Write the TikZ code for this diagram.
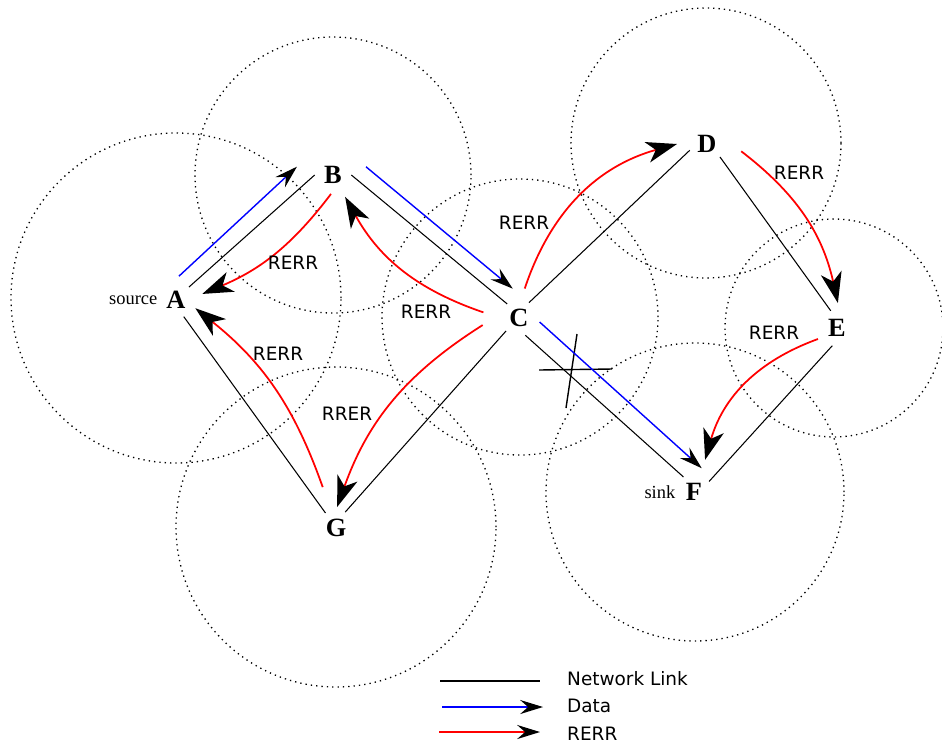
\documentclass[tikz,border=0pt]{standalone}
\usepackage{fontspec}
\setmainfont{Liberation Serif}
\setsansfont{DejaVu Sans}
\usetikzlibrary{arrows.meta,positioning}

\tikzset{
  host/.style={circle, minimum size=0.72cm, inner sep=0pt, font=\fontsize{15}{17}\selectfont\bfseries},
  role/.style={inner sep=0pt, font=\fontsize{10.5}{12}\selectfont},
  msg/.style={font=\sffamily\fontsize{10.5}{12}\selectfont},
  zone/.style={line width=0.75pt, dash pattern=on 0.75pt off 2.3pt},
  link/.style={black, line width=0.6pt},
  small tip/.style={-{Stealth[black,length=13pt,width=8pt,inset=4.5pt]}},
  data/.style={blue, line width=0.8pt, small tip},
  rerr/.style={red, line width=1pt, -{Stealth[black,length=17.5pt,width=12pt,inset=5pt]}},
}

\begin{document}
\begin{tikzpicture}[x=0.02cm, y=0.02cm]
\useasboundingbox (0,0) rectangle (942,-745);

% hosts
\node[host] (A) at (176,-300) {A};
\node[host] (B) at (333,-175) {B};
\node[host] (C) at (519,-318) {C};
\node[host] (D) at (707,-144) {D};
\node[host] (E) at (837,-328) {E};
\node[host] (F) at (694,-492) {F};
\node[host] (G) at (336,-528) {G};
\node[role, left=0pt of A] (source) {source};
\node[role, left=0pt of F] (sink) {sink};

% radio ranges
\draw[zone] (176,-298) circle[radius=165];
\draw[zone] (333,-175) circle[radius=138];
\draw[zone] (520,-317) circle[radius=138];
\draw[zone] (706,-143) circle[radius=135];
\draw[zone] (834,-328) circle[radius=109];
\draw[zone] (695,-492) circle[radius=149];
\draw[zone] (336,-527) circle[radius=160];

% network links
\draw[link] (A.45) -- (B.180);
\draw[link] (B.0) -- (C.130);
\draw[link] (C.57) -- (D.200);
\draw[link] (D.-45) -- (E.110);
\draw[link] (E.255) -- (F.35);
\draw[link] (C.290) -- (F.125);
\draw[link] (A.295) -- (G.125);
\draw[link] (G.60) -- (C.225);

% broken link
\draw[link, line width=0.8pt] (539,-370) -- (612,-369);
\draw[link, line width=0.8pt] (577,-334) -- (566,-408);

% data
\draw[data] ([shift={(83:24)}]A.center) -- ([shift={(167:37)}]B.center);
\draw[data] ([shift={(14:34)}]B.center) -- ([shift={(102:30)}]C.center);
\draw[data] ([shift={(-11:21)}]C.center) -- ([shift={(72:25)}]F.center);

% route errors
\draw[rerr] ([shift={(264:19)}]B.center) to[bend left=15] ([shift={(13:27)}]A.center);
\draw[rerr] ([shift={(171:36)}]C.center) to[bend left=21] ([shift={(299:25)}]B.center);
\draw[rerr] ([shift={(108:43)}]G.center) to[bend right=16] ([shift={(337:21)}]A.center);
\draw[rerr] ([shift={(191:37)}]C.center) to[bend right=19] ([shift={(87:21)}]G.center);
\draw[rerr] ([shift={(79:30)}]C.center) to[bend left=28] ([shift={(180:30)}]D.center);
\draw[rerr] ([shift={(348:35)}]D.center) to[bend left=20] ([shift={(88:25)}]E.center);
\draw[rerr] ([shift={(210:22)}]E.center) to[bend right=27] ([shift={(71:34)}]F.center);

\node[msg] (ba) at (293,-263) {RERR};
\node[msg] (cb) at (426,-312) {RERR};
\node[msg] (ga) at (278,-354) {RERR};
\node[msg] (cg) at (347,-414) {RRER};
\node[msg] (cd) at (524,-223) {RERR};
\node[msg] (de) at (799,-173) {RERR};
\node[msg] (ef) at (774,-333) {RERR};

% legend
\draw[link] (440,-681) -- (540,-681);
\draw[data] (442,-707) -- (543,-707);
\draw[rerr, small tip] (439,-732) -- (540,-732);
\node[msg, anchor=west] (keylink) at (561,-679) {Network Link};
\node[msg, anchor=west] (keydata) at (561,-706) {Data};
\node[msg, anchor=west] (keyrerr) at (561,-734) {RERR};

\end{tikzpicture}
\end{document}
